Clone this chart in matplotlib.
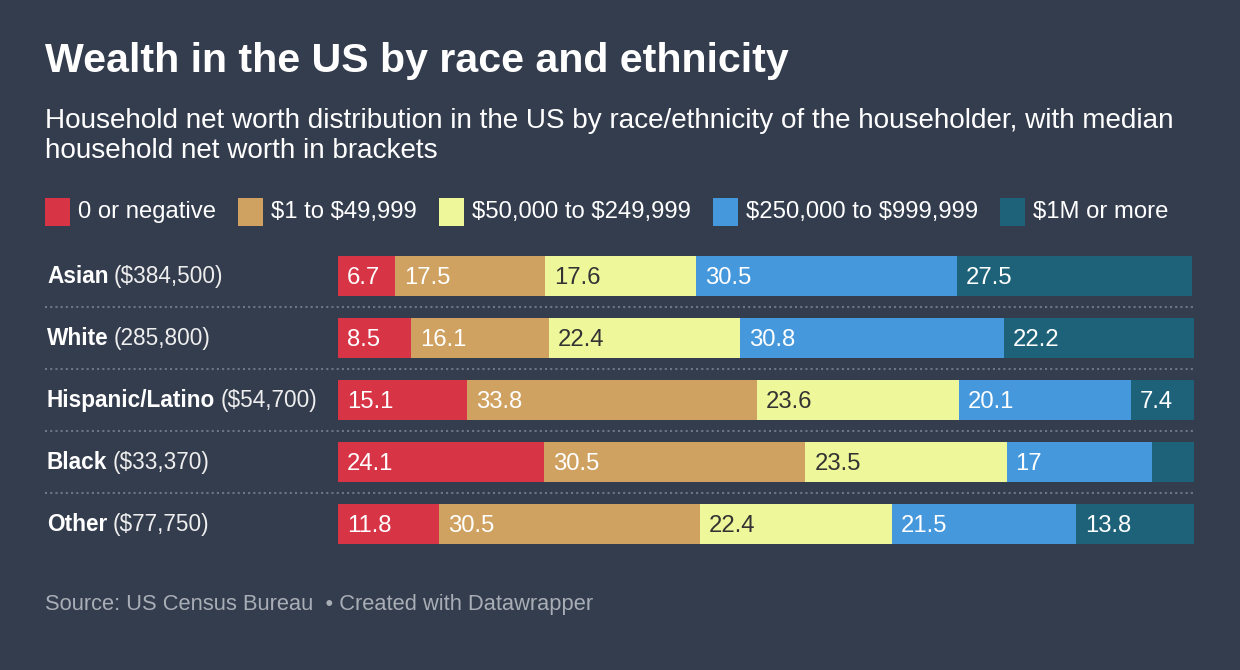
import matplotlib
matplotlib.use("Agg")
import matplotlib.pyplot as plt
from matplotlib.patches import Rectangle
from matplotlib.lines import Line2D
from matplotlib.transforms import blended_transform_factory

# ---- data ----
groups = ["Asian", "White", "Hispanic/Latino", "Black", "Other"]
medians = ["($384,500)", "(285,800)", "($54,700)", "($33,370)", "($77,750)"]
brackets = ["0 or negative", "$1 to $49,999", "$50,000 to $249,999",
            "$250,000 to $999,999", "$1M or more"]
neg = [6.7, 8.5, 15.1, 24.1, 11.8]
low = [17.5, 16.1, 33.8, 30.5, 30.5]
mid = [17.6, 22.4, 23.6, 23.5, 22.4]
high = [30.5, 30.8, 20.1, 17.0, 21.5]
top = [27.5, 22.2, 7.4, 4.9, 13.8]
series = [neg, low, mid, high, top]

colors = ["#d73446", "#cfa261", "#eef79a", "#4598dc", "#1e627a"]
label_colors = ["white", "white", "#333333", "white", "white"]
BG = "#343d4e"

plt.rcParams['font.family'] = ['Liberation Sans', 'DejaVu Sans']
plt.rcParams['text.parse_math'] = False

W, H = 1240, 670
fig = plt.figure(figsize=(W / 100, H / 100), dpi=100, facecolor=BG)
renderer = fig.canvas.get_renderer()

def fx(px):
    return px / W

def fy(py):
    return 1 - py / H

def width_px(t):
    return t.get_window_extent(renderer).width

def fit(t, target):
    fs = t.get_fontsize()
    t.set_fontsize(fs * target / width_px(t))
    return t.get_fontsize()

# title
t = fig.text(fx(45), fy(72), "Wealth in the US by race and ethnicity",
             color="white", fontsize=28, fontweight="bold", va="baseline")
fit(t, 745)

# subtitle
s1 = fig.text(fx(45), fy(128), "Household net worth distribution in the US by race/ethnicity of the householder, with median",
              color="white", fontsize=17, va="baseline")
sub_fs = fit(s1, 1135)
fig.text(fx(45), fy(158), "household net worth in brackets", color="white",
         fontsize=sub_fs, va="baseline")

# legend
lt = fig.text(0, 0, brackets[0], fontsize=16)
leg_fs = fit(lt, 138)
lt.remove()
x = 45
for b, c in zip(brackets, colors):
    fig.patches.append(Rectangle((fx(x), fy(226)), fx(25), 28 / H,
                                 transform=fig.transFigure, facecolor=c,
                                 edgecolor="none"))
    tx = fig.text(fx(x + 33), fy(218), b, color="white", fontsize=leg_fs,
                  va="baseline")
    x = x + 33 + width_px(tx) + 22

# axes for bars
ax = fig.add_axes([fx(338), fy(555), fx(1194) - fx(338), 310 / H])
ax.set_facecolor(BG)
ax.set_xlim(0, 100)
ax.set_ylim(len(groups) - 0.5, -0.5)
ax.axis("off")

ypos = list(range(len(groups)))
left = [0.0] * len(groups)
for vals, c, lc in zip(series, colors, label_colors):
    ax.barh(ypos, vals, left=left, height=40 / 62, color=c, edgecolor="none")
    for i, v in enumerate(vals):
        if v >= 5:
            ax.annotate(f"{v:g}", xy=(left[i], i), xytext=(9, 0),
                        textcoords="offset pixels", va="center_baseline",
                        ha="left", color=lc, fontsize=leg_fs)
    left = [l + v for l, v in zip(left, vals)]

# separators
trans = blended_transform_factory(fig.transFigure, ax.transData)
for i in range(len(groups) - 1):
    ln = Line2D([fx(45), fx(1194)], [i + 0.5, i + 0.5], transform=trans,
                color="#6c7686", linewidth=1.5, linestyle=(0, (1, 1.5)))
    fig.lines.append(ln)

# row labels
row_fs = leg_fs * 0.95
for i, (g, m) in enumerate(zip(groups, medians)):
    yb = 276 + 62 * i + 7
    tb = fig.text(fx(47), fy(yb), g, color="white", fontsize=row_fs,
                  fontweight="bold", va="baseline")
    wb = width_px(tb)
    fig.text(fx(47 + wb + 5), fy(yb), m, color="#eeeeee", fontsize=row_fs,
             va="baseline")

# footer
ft = fig.text(fx(45), fy(610), "Source: US Census Bureau  \u2022 Created with Datawrapper",
              color="#a9aeb6", fontsize=14, va="baseline")
fit(ft, 552)

fig.savefig("out.png", dpi=100, facecolor=BG)
